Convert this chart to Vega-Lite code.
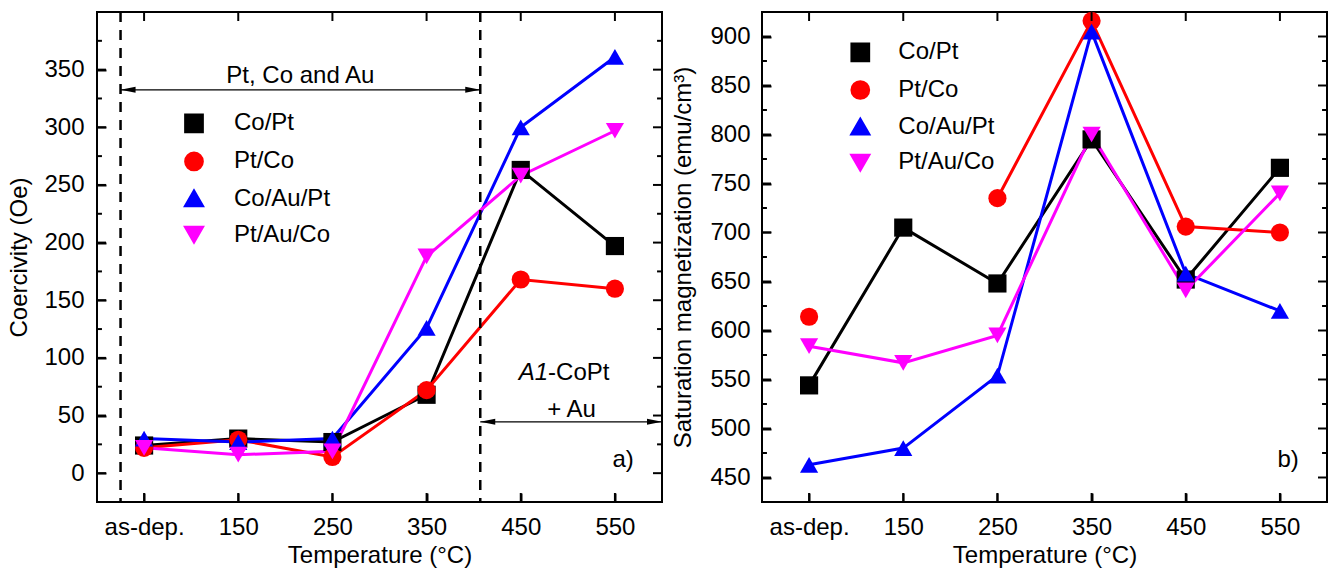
{
  "$schema": "https://vega.github.io/schema/vega-lite/v6.json",
  "background": "white",
  "padding": {"left": 6, "top": 9, "right": 5, "bottom": 0},
  "datasets": {
    "coercivity": [
      {"series": "Co/Pt", "T": 50, "Hc": 24}, {"series": "Co/Pt", "T": 150, "Hc": 30}, {"series": "Co/Pt", "T": 250, "Hc": 27},
      {"series": "Co/Pt", "T": 350, "Hc": 68}, {"series": "Co/Pt", "T": 450, "Hc": 263}, {"series": "Co/Pt", "T": 550, "Hc": 197},
      {"series": "Pt/Co", "T": 50, "Hc": 22}, {"series": "Pt/Co", "T": 150, "Hc": 29}, {"series": "Pt/Co", "T": 250, "Hc": 14},
      {"series": "Pt/Co", "T": 350, "Hc": 72}, {"series": "Pt/Co", "T": 450, "Hc": 168}, {"series": "Pt/Co", "T": 550, "Hc": 160},
      {"series": "Co/Au/Pt", "T": 50, "Hc": 30}, {"series": "Co/Au/Pt", "T": 150, "Hc": 27}, {"series": "Co/Au/Pt", "T": 250, "Hc": 30},
      {"series": "Co/Au/Pt", "T": 350, "Hc": 126}, {"series": "Co/Au/Pt", "T": 450, "Hc": 300}, {"series": "Co/Au/Pt", "T": 550, "Hc": 361},
      {"series": "Pt/Au/Co", "T": 50, "Hc": 22}, {"series": "Pt/Au/Co", "T": 150, "Hc": 16}, {"series": "Pt/Au/Co", "T": 250, "Hc": 19},
      {"series": "Pt/Au/Co", "T": 350, "Hc": 188}, {"series": "Pt/Au/Co", "T": 450, "Hc": 258}, {"series": "Pt/Au/Co", "T": 550, "Hc": 297}
    ],
    "magnetization": [
      {"series": "Co/Pt", "T": 50, "Ms": 544}, {"series": "Co/Pt", "T": 150, "Ms": 705}, {"series": "Co/Pt", "T": 250, "Ms": 648},
      {"series": "Co/Pt", "T": 350, "Ms": 795}, {"series": "Co/Pt", "T": 450, "Ms": 652}, {"series": "Co/Pt", "T": 550, "Ms": 766},
      {"series": "Pt/Co", "T": 50, "Ms": 614}, {"series": "Pt/Co", "T": 150, "Ms": null}, {"series": "Pt/Co", "T": 250, "Ms": 735},
      {"series": "Pt/Co", "T": 350, "Ms": 916}, {"series": "Pt/Co", "T": 450, "Ms": 706}, {"series": "Pt/Co", "T": 550, "Ms": 700},
      {"series": "Co/Au/Pt", "T": 50, "Ms": 463}, {"series": "Co/Au/Pt", "T": 150, "Ms": 480}, {"series": "Co/Au/Pt", "T": 250, "Ms": 554},
      {"series": "Co/Au/Pt", "T": 350, "Ms": 905}, {"series": "Co/Au/Pt", "T": 450, "Ms": 658}, {"series": "Co/Au/Pt", "T": 550, "Ms": 620},
      {"series": "Pt/Au/Co", "T": 50, "Ms": 584}, {"series": "Pt/Au/Co", "T": 150, "Ms": 567}, {"series": "Pt/Au/Co", "T": 250, "Ms": 595},
      {"series": "Pt/Au/Co", "T": 350, "Ms": 800}, {"series": "Pt/Au/Co", "T": 450, "Ms": 641}, {"series": "Pt/Au/Co", "T": 550, "Ms": 740}
    ],
    "ticksT": [{"v": 50}, {"v": 150}, {"v": 250}, {"v": 350}, {"v": 450}, {"v": 550}],
    "ticksHcMajor": [{"v": 0}, {"v": 50}, {"v": 100}, {"v": 150}, {"v": 200}, {"v": 250}, {"v": 300}, {"v": 350}],
    "ticksHcMinor": [{"v": 25}, {"v": 75}, {"v": 125}, {"v": 175}, {"v": 225}, {"v": 275}, {"v": 325}, {"v": 375}],
    "ticksMsMajor": [{"v": 450}, {"v": 500}, {"v": 550}, {"v": 600}, {"v": 650}, {"v": 700}, {"v": 750}, {"v": 800}, {"v": 850}, {"v": 900}],
    "ticksMsMinor": [{"v": 475}, {"v": 525}, {"v": 575}, {"v": 625}, {"v": 675}, {"v": 725}, {"v": 775}, {"v": 825}, {"v": 875}],
    "dashes": [{"T": 25}, {"T": 407}],
    "arrows": [{"T1": 25, "T2": 407, "Hc": 332.5}, {"T1": 407, "T2": 600, "Hc": 44.5}],
    "tipsLeft": [{"T": 25, "Hc": 332.5}, {"T": 407, "Hc": 44.5}],
    "tipsRight": [{"T": 407, "Hc": 332.5}, {"T": 600, "Hc": 44.5}],
    "textCenter": [{"T": 216, "Hc": 338, "label": "Pt, Co and Au"}, {"T": 504, "Hc": 48.5, "label": "+ Au"}],
    "textItalic": [{"T": 479, "Hc": 80.6, "label": "A1"}],
    "textLeft": [{"T": 479, "Hc": 80.6, "label": "-CoPt"}],
    "textPanelA": [{"T": 570, "Hc": 5.2, "label": "a)"}],
    "textPanelB": [{"T": 570, "Ms": 461, "label": "b)"}]
  },
  "hconcat": [
    {
      "width": 565,
      "height": 490,
      "layer": [
        {
          "data": {"name": "coercivity"},
          "mark": {"type": "line", "strokeWidth": 3},
          "encoding": {
            "x": {"field": "T", "type": "quantitative", "scale": {"domain": [0, 600], "nice": false, "zero": false},
              "axis": {"orient": "bottom", "ticks": true, "tickColor": "black", "tickOpacity": 1, "tickWidth": 2, "offset": -9, "tickSize": 9, "values": [50, 150, 250, 350, 450, 550], "labelExpr": "datum.value == 50 ? 'as-dep.' : datum.label", "labelPadding": 13, "labelFlush": false, "labelOverlap": false, "title": "Temperature (°C)", "titlePadding": 4}},
            "y": {"field": "Hc", "type": "quantitative", "scale": {"domain": [-25, 400], "nice": false, "zero": false},
              "axis": {"orient": "left", "ticks": true, "tickColor": "black", "tickOpacity": 1, "tickWidth": 2, "offset": -9, "tickSize": 9, "values": [0, 50, 100, 150, 200, 250, 300, 350], "labelPadding": 13, "labelOverlap": false, "title": "Coercivity (Oe)", "titlePadding": 12}},
            "color": {"field": "series", "type": "nominal", "scale": {"domain": ["Co/Pt", "Pt/Co", "Co/Au/Pt", "Pt/Au/Co"], "range": ["#000000", "#ff0000", "#0000ff", "#ff00ff"]},
              "legend": {"orient": "none", "legendX": 61.5, "legendY": 99.3, "title": null, "symbolSize": 280, "symbolStrokeWidth": 3, "symbolOffset": 23.5, "labelOffset": 28, "labelFontSize": 24, "labelFont": "Liberation Sans", "labelColor": "black", "rowPadding": 8.1, "padding": 0, "labelLimit": 300, "symbolOpacity": 1}}
          }
        },
        {
          "data": {"name": "coercivity"},
          "mark": {"type": "point", "filled": true, "opacity": 1, "size": 330, "strokeWidth": 0},
          "encoding": {
            "x": {"field": "T", "type": "quantitative", "scale": {"domain": [0, 600], "nice": false, "zero": false}, "axis": null},
            "y": {"field": "Hc", "type": "quantitative", "scale": {"domain": [-25, 400], "nice": false, "zero": false}, "axis": null},
            "color": {"field": "series", "type": "nominal", "scale": {"domain": ["Co/Pt", "Pt/Co", "Co/Au/Pt", "Pt/Au/Co"], "range": ["#000000", "#ff0000", "#0000ff", "#ff00ff"]},
              "legend": {"orient": "none", "legendX": 61.5, "legendY": 99.3, "title": null, "symbolSize": 280, "symbolStrokeWidth": 3, "symbolOffset": 23.5, "labelOffset": 28, "labelFontSize": 24, "labelFont": "Liberation Sans", "labelColor": "black", "rowPadding": 8.1, "padding": 0, "labelLimit": 300, "symbolOpacity": 1}},
            "shape": {"field": "series", "type": "nominal", "scale": {"domain": ["Co/Pt", "Pt/Co", "Co/Au/Pt", "Pt/Au/Co"], "range": ["square", "circle", "triangle-up", "triangle-down"]},
              "legend": {"orient": "none", "legendX": 61.5, "legendY": 99.3, "title": null, "symbolSize": 280, "symbolStrokeWidth": 3, "symbolOffset": 23.5, "labelOffset": 28, "labelFontSize": 24, "labelFont": "Liberation Sans", "labelColor": "black", "rowPadding": 8.1, "padding": 0, "labelLimit": 300, "symbolOpacity": 1}}
          }
        },
        {
          "data": {"name": "ticksHcMajor"},
          "mark": {"type": "point", "shape": "M0,-0.22H2V0.22H0Z", "size": 81, "filled": true, "color": "black", "strokeWidth": 0, "opacity": 1},
          "encoding": {
            "x": {"datum": 0, "type": "quantitative", "scale": {"domain": [0, 600], "nice": false, "zero": false}, "axis": null},
            "y": {"field": "v", "type": "quantitative", "scale": {"domain": [-25, 400], "nice": false, "zero": false}, "axis": null}
          }
        },
        {
          "data": {"name": "ticksHcMajor"},
          "mark": {"type": "point", "shape": "M0,-0.22H-2V0.22H0Z", "size": 81, "filled": true, "color": "black", "strokeWidth": 0, "opacity": 1},
          "encoding": {
            "x": {"datum": 600, "type": "quantitative", "scale": {"domain": [0, 600], "nice": false, "zero": false}, "axis": null},
            "y": {"field": "v", "type": "quantitative", "scale": {"domain": [-25, 400], "nice": false, "zero": false}, "axis": null}
          }
        },
        {
          "data": {"name": "ticksHcMinor"},
          "mark": {"type": "point", "shape": "M0,-0.22H1.1V0.22H0Z", "size": 81, "filled": true, "color": "black", "strokeWidth": 0, "opacity": 1},
          "encoding": {
            "x": {"datum": 0, "type": "quantitative", "scale": {"domain": [0, 600], "nice": false, "zero": false}, "axis": null},
            "y": {"field": "v", "type": "quantitative", "scale": {"domain": [-25, 400], "nice": false, "zero": false}, "axis": null}
          }
        },
        {
          "data": {"name": "ticksHcMinor"},
          "mark": {"type": "point", "shape": "M0,-0.22H-1.1V0.22H0Z", "size": 81, "filled": true, "color": "black", "strokeWidth": 0, "opacity": 1},
          "encoding": {
            "x": {"datum": 600, "type": "quantitative", "scale": {"domain": [0, 600], "nice": false, "zero": false}, "axis": null},
            "y": {"field": "v", "type": "quantitative", "scale": {"domain": [-25, 400], "nice": false, "zero": false}, "axis": null}
          }
        },
        {
          "data": {"name": "ticksT"},
          "mark": {"type": "point", "shape": "M-0.22,0V-2H0.22V0Z", "size": 81, "filled": true, "color": "black", "strokeWidth": 0, "opacity": 1},
          "encoding": {
            "x": {"field": "v", "type": "quantitative", "scale": {"domain": [0, 600], "nice": false, "zero": false}, "axis": null},
            "y": {"datum": -25, "type": "quantitative", "scale": {"domain": [-25, 400], "nice": false, "zero": false}, "axis": null}
          }
        },
        {
          "data": {"name": "ticksT"},
          "mark": {"type": "point", "shape": "M-0.22,0V2H0.22V0Z", "size": 81, "filled": true, "color": "black", "strokeWidth": 0, "opacity": 1},
          "encoding": {
            "x": {"field": "v", "type": "quantitative", "scale": {"domain": [0, 600], "nice": false, "zero": false}, "axis": null},
            "y": {"datum": 400, "type": "quantitative", "scale": {"domain": [-25, 400], "nice": false, "zero": false}, "axis": null}
          }
        },
        {
          "data": {"name": "dashes"},
          "mark": {"type": "rule", "color": "black", "strokeWidth": 2.5, "strokeDash": [10, 8]},
          "encoding": {"x": {"field": "T", "type": "quantitative", "scale": {"domain": [0, 600], "nice": false, "zero": false}, "axis": null}}
        },
        {
          "data": {"name": "arrows"},
          "mark": {"type": "rule", "color": "black", "strokeWidth": 1.2},
          "encoding": {
            "x": {"field": "T1", "type": "quantitative", "scale": {"domain": [0, 600], "nice": false, "zero": false}, "axis": null},
            "x2": {"field": "T2"},
            "y": {"field": "Hc", "type": "quantitative", "scale": {"domain": [-25, 400], "nice": false, "zero": false}, "axis": null}
          }
        },
        {
          "data": {"name": "tipsLeft"},
          "mark": {"type": "point", "shape": "M0,0L2,-0.4L2,0.4Z", "size": 225, "filled": true, "color": "black", "opacity": 1, "strokeWidth": 0},
          "encoding": {
            "x": {"field": "T", "type": "quantitative", "scale": {"domain": [0, 600], "nice": false, "zero": false}, "axis": null},
            "y": {"field": "Hc", "type": "quantitative", "scale": {"domain": [-25, 400], "nice": false, "zero": false}, "axis": null}
          }
        },
        {
          "data": {"name": "tipsRight"},
          "mark": {"type": "point", "shape": "M0,0L-2,-0.4L-2,0.4Z", "size": 225, "filled": true, "color": "black", "opacity": 1, "strokeWidth": 0},
          "encoding": {
            "x": {"field": "T", "type": "quantitative", "scale": {"domain": [0, 600], "nice": false, "zero": false}, "axis": null},
            "y": {"field": "Hc", "type": "quantitative", "scale": {"domain": [-25, 400], "nice": false, "zero": false}, "axis": null}
          }
        },
        {
          "data": {"name": "textCenter"},
          "mark": {"type": "text", "align": "center", "baseline": "alphabetic", "font": "Liberation Sans", "fontSize": 24, "color": "black"},
          "encoding": {
            "x": {"field": "T", "type": "quantitative", "scale": {"domain": [0, 600], "nice": false, "zero": false}, "axis": null},
            "y": {"field": "Hc", "type": "quantitative", "scale": {"domain": [-25, 400], "nice": false, "zero": false}, "axis": null},
            "text": {"field": "label"}
          }
        },
        {
          "data": {"name": "textItalic"},
          "mark": {"type": "text", "align": "right", "baseline": "alphabetic", "font": "Liberation Sans", "fontSize": 24, "fontStyle": "italic", "color": "black"},
          "encoding": {
            "x": {"field": "T", "type": "quantitative", "scale": {"domain": [0, 600], "nice": false, "zero": false}, "axis": null},
            "y": {"field": "Hc", "type": "quantitative", "scale": {"domain": [-25, 400], "nice": false, "zero": false}, "axis": null},
            "text": {"field": "label"}
          }
        },
        {
          "data": {"name": "textLeft"},
          "mark": {"type": "text", "align": "left", "baseline": "alphabetic", "font": "Liberation Sans", "fontSize": 24, "color": "black"},
          "encoding": {
            "x": {"field": "T", "type": "quantitative", "scale": {"domain": [0, 600], "nice": false, "zero": false}, "axis": null},
            "y": {"field": "Hc", "type": "quantitative", "scale": {"domain": [-25, 400], "nice": false, "zero": false}, "axis": null},
            "text": {"field": "label"}
          }
        },
        {
          "data": {"name": "textPanelA"},
          "mark": {"type": "text", "align": "right", "baseline": "alphabetic", "font": "Liberation Sans", "fontSize": 24, "color": "black"},
          "encoding": {
            "x": {"field": "T", "type": "quantitative", "scale": {"domain": [0, 600], "nice": false, "zero": false}, "axis": null},
            "y": {"field": "Hc", "type": "quantitative", "scale": {"domain": [-25, 400], "nice": false, "zero": false}, "axis": null},
            "text": {"field": "label"}
          }
        }
      ],
      "resolve": {"axis": {"x": "independent", "y": "independent"}}
    },
    {
      "width": 565,
      "height": 490,
      "layer": [
        {
          "data": {"name": "magnetization"},
          "mark": {"type": "line", "strokeWidth": 3, "invalid": "break-paths-show-domains"},
          "encoding": {
            "x": {"field": "T", "type": "quantitative", "scale": {"domain": [0, 600], "nice": false, "zero": false},
              "axis": {"orient": "bottom", "ticks": true, "tickColor": "black", "tickOpacity": 1, "tickWidth": 2, "offset": -9, "tickSize": 9, "values": [50, 150, 250, 350, 450, 550], "labelExpr": "datum.value == 50 ? 'as-dep.' : datum.label", "labelPadding": 13, "labelFlush": false, "labelOverlap": false, "title": "Temperature (°C)", "titlePadding": 4}},
            "y": {"field": "Ms", "type": "quantitative", "scale": {"domain": [425, 925], "nice": false, "zero": false},
              "axis": {"orient": "left", "ticks": true, "tickColor": "black", "tickOpacity": 1, "tickWidth": 2, "offset": -9, "tickSize": 9, "values": [450, 500, 550, 600, 650, 700, 750, 800, 850, 900], "labelPadding": 12, "labelOverlap": false, "title": "Saturation magnetization (emu/cm³)", "titlePadding": 14}},
            "color": {"field": "series", "type": "nominal", "scale": {"domain": ["Co/Pt", "Pt/Co", "Co/Au/Pt", "Pt/Au/Co"], "range": ["#000000", "#ff0000", "#0000ff", "#ff00ff"]},
              "legend": {"orient": "none", "legendX": 62.8, "legendY": 28.3, "title": null, "symbolSize": 280, "symbolStrokeWidth": 3, "symbolOffset": 23.5, "labelOffset": 26, "labelFontSize": 24, "labelFont": "Liberation Sans", "labelColor": "black", "rowPadding": 7.7, "padding": 0, "labelLimit": 300, "symbolOpacity": 1}}
          }
        },
        {
          "data": {"name": "magnetization"},
          "mark": {"type": "point", "filled": true, "opacity": 1, "size": 330, "strokeWidth": 0},
          "encoding": {
            "x": {"field": "T", "type": "quantitative", "scale": {"domain": [0, 600], "nice": false, "zero": false}, "axis": null},
            "y": {"field": "Ms", "type": "quantitative", "scale": {"domain": [425, 925], "nice": false, "zero": false}, "axis": null},
            "color": {"field": "series", "type": "nominal", "scale": {"domain": ["Co/Pt", "Pt/Co", "Co/Au/Pt", "Pt/Au/Co"], "range": ["#000000", "#ff0000", "#0000ff", "#ff00ff"]},
              "legend": {"orient": "none", "legendX": 62.8, "legendY": 28.3, "title": null, "symbolSize": 280, "symbolStrokeWidth": 3, "symbolOffset": 23.5, "labelOffset": 26, "labelFontSize": 24, "labelFont": "Liberation Sans", "labelColor": "black", "rowPadding": 7.7, "padding": 0, "labelLimit": 300, "symbolOpacity": 1}},
            "shape": {"field": "series", "type": "nominal", "scale": {"domain": ["Co/Pt", "Pt/Co", "Co/Au/Pt", "Pt/Au/Co"], "range": ["square", "circle", "triangle-up", "triangle-down"]},
              "legend": {"orient": "none", "legendX": 62.8, "legendY": 28.3, "title": null, "symbolSize": 280, "symbolStrokeWidth": 3, "symbolOffset": 23.5, "labelOffset": 26, "labelFontSize": 24, "labelFont": "Liberation Sans", "labelColor": "black", "rowPadding": 7.7, "padding": 0, "labelLimit": 300, "symbolOpacity": 1}}
          }
        },
        {
          "data": {"name": "ticksMsMajor"},
          "mark": {"type": "point", "shape": "M0,-0.22H2V0.22H0Z", "size": 81, "filled": true, "color": "black", "strokeWidth": 0, "opacity": 1},
          "encoding": {
            "x": {"datum": 0, "type": "quantitative", "scale": {"domain": [0, 600], "nice": false, "zero": false}, "axis": null},
            "y": {"field": "v", "type": "quantitative", "scale": {"domain": [425, 925], "nice": false, "zero": false}, "axis": null}
          }
        },
        {
          "data": {"name": "ticksMsMajor"},
          "mark": {"type": "point", "shape": "M0,-0.22H-2V0.22H0Z", "size": 81, "filled": true, "color": "black", "strokeWidth": 0, "opacity": 1},
          "encoding": {
            "x": {"datum": 600, "type": "quantitative", "scale": {"domain": [0, 600], "nice": false, "zero": false}, "axis": null},
            "y": {"field": "v", "type": "quantitative", "scale": {"domain": [425, 925], "nice": false, "zero": false}, "axis": null}
          }
        },
        {
          "data": {"name": "ticksMsMinor"},
          "mark": {"type": "point", "shape": "M0,-0.22H1.1V0.22H0Z", "size": 81, "filled": true, "color": "black", "strokeWidth": 0, "opacity": 1},
          "encoding": {
            "x": {"datum": 0, "type": "quantitative", "scale": {"domain": [0, 600], "nice": false, "zero": false}, "axis": null},
            "y": {"field": "v", "type": "quantitative", "scale": {"domain": [425, 925], "nice": false, "zero": false}, "axis": null}
          }
        },
        {
          "data": {"name": "ticksMsMinor"},
          "mark": {"type": "point", "shape": "M0,-0.22H-1.1V0.22H0Z", "size": 81, "filled": true, "color": "black", "strokeWidth": 0, "opacity": 1},
          "encoding": {
            "x": {"datum": 600, "type": "quantitative", "scale": {"domain": [0, 600], "nice": false, "zero": false}, "axis": null},
            "y": {"field": "v", "type": "quantitative", "scale": {"domain": [425, 925], "nice": false, "zero": false}, "axis": null}
          }
        },
        {
          "data": {"name": "ticksT"},
          "mark": {"type": "point", "shape": "M-0.22,0V-2H0.22V0Z", "size": 81, "filled": true, "color": "black", "strokeWidth": 0, "opacity": 1},
          "encoding": {
            "x": {"field": "v", "type": "quantitative", "scale": {"domain": [0, 600], "nice": false, "zero": false}, "axis": null},
            "y": {"datum": 425, "type": "quantitative", "scale": {"domain": [425, 925], "nice": false, "zero": false}, "axis": null}
          }
        },
        {
          "data": {"name": "ticksT"},
          "mark": {"type": "point", "shape": "M-0.22,0V2H0.22V0Z", "size": 81, "filled": true, "color": "black", "strokeWidth": 0, "opacity": 1},
          "encoding": {
            "x": {"field": "v", "type": "quantitative", "scale": {"domain": [0, 600], "nice": false, "zero": false}, "axis": null},
            "y": {"datum": 925, "type": "quantitative", "scale": {"domain": [425, 925], "nice": false, "zero": false}, "axis": null}
          }
        },
        {
          "data": {"name": "textPanelB"},
          "mark": {"type": "text", "align": "right", "baseline": "alphabetic", "font": "Liberation Sans", "fontSize": 24, "color": "black"},
          "encoding": {
            "x": {"field": "T", "type": "quantitative", "scale": {"domain": [0, 600], "nice": false, "zero": false}, "axis": null},
            "y": {"field": "Ms", "type": "quantitative", "scale": {"domain": [425, 925], "nice": false, "zero": false}, "axis": null},
            "text": {"field": "label"}
          }
        }
      ],
      "resolve": {"axis": {"x": "independent", "y": "independent"}}
    }
  ],
  "spacing": 100,
  "bounds": "flush",
  "resolve": {"scale": {"color": "independent", "shape": "independent"}, "legend": {"color": "independent", "shape": "independent"}},
  "config": {
    "view": {"stroke": "black", "strokeWidth": 2},
    "axis": {"domain": false, "grid": false, "ticks": true, "tickColor": "black", "tickWidth": 2, "labelFont": "Liberation Sans", "titleFont": "Liberation Sans", "labelFontSize": 24, "titleFontSize": 24, "titleFontWeight": "normal", "labelColor": "black", "titleColor": "black"}
  }
}
